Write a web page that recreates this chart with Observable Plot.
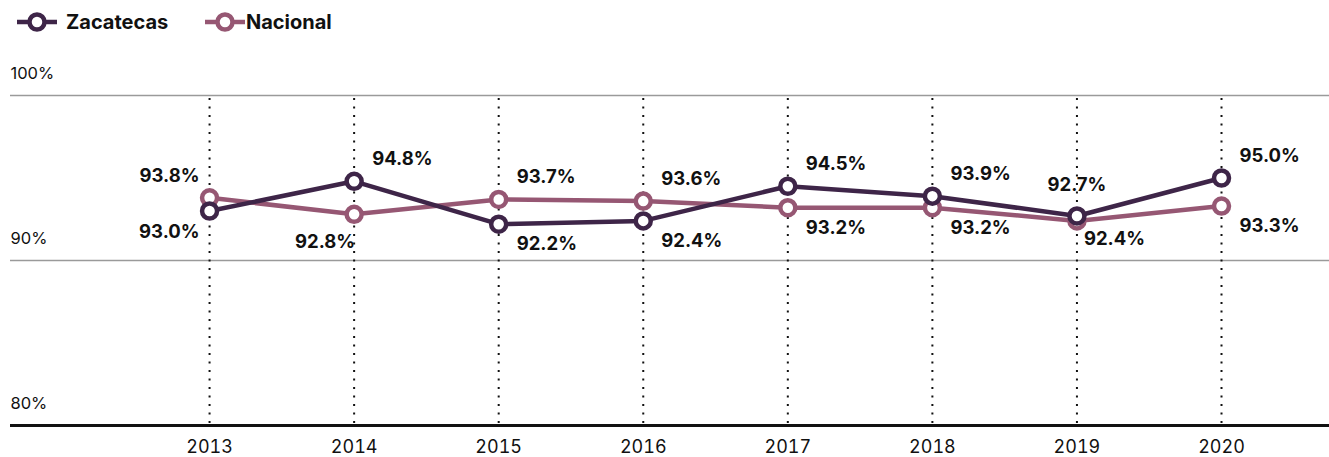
<!DOCTYPE html>
<html>
<head>
<meta charset="utf-8">
<script src="https://cdn.jsdelivr.net/npm/d3@7"></script>
<script src="https://cdn.jsdelivr.net/npm/@observablehq/plot@0.6"></script>
<style>
  body { margin: 0; background: #fff; font-family: Inter, "DejaVu Sans", sans-serif; }
  #legend { height: 45px; position: relative; font-weight: 700; font-size: 20px; color: #111; }
  .item { position: absolute; top: 10px; display: flex; align-items: center; height: 24px; }
  .item svg { display: block; }
</style>
</head>
<body>
<div id="legend"></div>
<div id="chart"></div>
<script>
const years = [2013, 2014, 2015, 2016, 2017, 2018, 2019, 2020];
const zacatecas = [93.0, 94.8, 92.2, 92.4, 94.5, 93.9, 92.7, 95.0];
const nacional = [93.8, 92.8, 93.7, 93.6, 93.2, 93.2, 92.4, 93.3];
const yTicks = [80, 90, 100];
const seriesNames = ["Zacatecas", "Nacional"];
const colors = ["#3e2548", "#965773"];
// label placement keywords (which side of each point the value label goes)
const zacPlacement = ["bl", "ar", "br", "br", "ar", "ar", "a", "ar"];
const nacPlacement = ["al", "bl2", "ar", "ar", "br", "br", "br2", "br"];

const placements = {
  ar: {dx: 18, dy: -22, textAnchor: "start"},
  br: {dx: 18, dy: 20, textAnchor: "start"},
  al: {dx: -10, dy: -22, textAnchor: "end"},
  bl: {dx: -10, dy: 21, textAnchor: "end"},
  bl2: {dx: 1, dy: 28, textAnchor: "end"},
  a: {dx: 0, dy: -31, textAnchor: "middle"},
  br2: {dx: 7, dy: 18, textAnchor: "start"}
};

const data = [];
years.forEach((y, i) => {
  data.push({series: "Zacatecas", year: y, value: zacatecas[i], place: zacPlacement[i]});
  data.push({series: "Nacional", year: y, value: nacional[i], place: nacPlacement[i]});
});

// legend
const legend = document.getElementById("legend");
const legendX = [17, 205];
seriesNames.forEach((name, i) => {
  const div = document.createElement("div");
  div.className = "item";
  div.style.left = legendX[i] + "px";
  div.innerHTML = `<svg width="40" height="24"><line x1="0" x2="40" y1="12" y2="12" stroke="${colors[i]}" stroke-width="4.5"/><circle cx="20" cy="12" r="7.5" fill="#fff" stroke="${colors[i]}" stroke-width="4.5"/></svg><span style="margin-left:${i === 0 ? 9 : 1}px">${name}</span>`;
  legend.appendChild(div);
});

const labelMarks = Object.entries(placements).map(([key, p]) =>
  Plot.text(data.filter(d => d.place === key), {
    x: "year", y: "value",
    text: d => d.value.toFixed(1) + "%",
    dx: p.dx, dy: p.dy, textAnchor: p.textAnchor,
    fontSize: 18.5, fontWeight: 700, fill: "#111"
  })
);

const chart = Plot.plot({
  width: 1329,
  height: 412,
  marginTop: 50,
  marginBottom: 32,
  marginLeft: 10,
  marginRight: 0,
  style: {fontFamily: "Inter, 'DejaVu Sans', sans-serif", background: "#fff"},
  x: {domain: [2011.623, 2020.747], axis: null},
  y: {domain: [80, 100], axis: null},
  marks: [
    Plot.ruleY(yTicks.filter(t => t > 80), {stroke: "#9a9a9a", strokeWidth: 1.5}),
    Plot.ruleX(years, {y1: 80, y2: 100, stroke: "#111", strokeWidth: 2, strokeDasharray: "2,6.5", strokeDashoffset: -2}),
    Plot.ruleY([80], {stroke: "#111", strokeWidth: 3}),
    Plot.text(yTicks, {
      y: d => d, frameAnchor: "left", text: d => d + "%",
      textAnchor: "start", dy: -22, fontSize: 16.5, fill: "#111"
    }),
    Plot.axisX(years, {tickSize: 0, tickPadding: 15, tickFormat: d => String(d), fontSize: 18, fill: "#111", label: null}),
    Plot.line(data.filter(d => d.series === "Nacional"), {x: "year", y: "value", stroke: colors[1], strokeWidth: 4.5}),
    Plot.line(data.filter(d => d.series === "Zacatecas"), {x: "year", y: "value", stroke: colors[0], strokeWidth: 4.5}),
    Plot.dot(data.filter(d => d.series === "Nacional"), {x: "year", y: "value", r: 7.5, fill: "#fff", stroke: colors[1], strokeWidth: 4.5}),
    Plot.dot(data.filter(d => d.series === "Zacatecas"), {x: "year", y: "value", r: 7.5, fill: "#fff", stroke: colors[0], strokeWidth: 4.5}),
    ...labelMarks
  ]
});
document.getElementById("chart").appendChild(chart);
</script>
</body>
</html>
